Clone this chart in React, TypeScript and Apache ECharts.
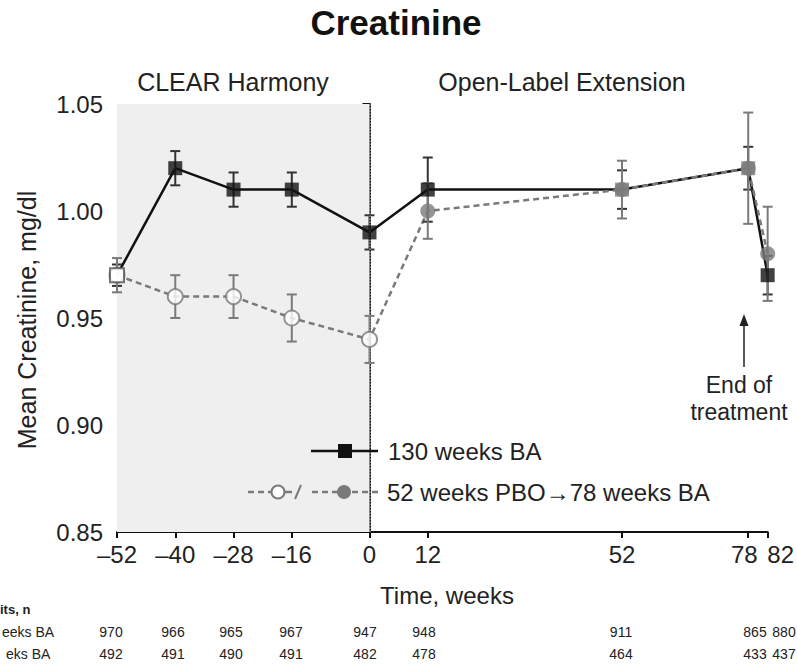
import React, { useEffect, useRef } from "react";
import * as echarts from "echarts";

// ---- data ----
const weeks = [-52, -40, -28, -16, 0, 12, 52, 78, 82];
const meanBA = [0.97, 1.02, 1.01, 1.01, 0.99, 1.01, 1.01, 1.02, 0.97];
const errBA = [0.005, 0.008, 0.008, 0.008, 0.008, 0.015, 0.009, 0.01, 0.009];
const meanPBO = [0.97, 0.96, 0.96, 0.95, 0.94, 1.0, 1.01, 1.02, 0.98];
const errPBO = [0.008, 0.01, 0.01, 0.011, 0.011, 0.013, 0.0135, 0.026, 0.022];
const nBA = [970, 966, 965, 967, 947, 948, 911, 865, 880];
const nPBO = [492, 491, 490, 491, 482, 478, 464, 433, 437];
const yTicks = [0.85, 0.9, 0.95, 1.0, 1.05];

// ---- layout (pixels) ----
const tableX = [111, 173, 231, 291, 365, 424, 621, 755, 784];
const FONT = "'Liberation Sans', Arial, sans-serif";
const GRAY = "#7a7a7a";

function errSeries(means: number[], errs: number[], color: string, z: number) {
  return {
    type: "custom",
    z,
    silent: true,
    encode: { x: 0, y: [1, 2] },
    data: weeks.map((w, i) => [w, means[i] - errs[i], means[i] + errs[i]]),
    renderItem: (params: any, api: any) => {
      const x = api.value(0);
      const lo = api.coord([x, api.value(1)]);
      const hi = api.coord([x, api.value(2)]);
      const hw = 5;
      const st = { stroke: color, lineWidth: 2 };
      return {
        type: "group",
        children: [
          { type: "line", shape: { x1: lo[0], y1: lo[1], x2: hi[0], y2: hi[1] }, style: st },
          { type: "line", shape: { x1: lo[0] - hw, y1: lo[1], x2: lo[0] + hw, y2: lo[1] }, style: st },
          { type: "line", shape: { x1: hi[0] - hw, y1: hi[1], x2: hi[0] + hw, y2: hi[1] }, style: st },
        ],
      };
    },
  };
}

export default function App() {
  const ref = useRef<HTMLDivElement>(null);
  useEffect(() => {
    document.body.style.margin = "0";
    const chart = echarts.init(ref.current!, null, { renderer: "svg" });
    const txt = (text: string, x: number, y: number, size: number, extra: any = {}) => ({
      type: "text",
      z: 100,
      x,
      y,
      style: {
        text,
        fontSize: size,
        fontFamily: FONT,
        fill: "#222",
        textAlign: "left",
        textVerticalAlign: "middle",
        ...extra,
      },
    });
    const Z = 100;
    const graphics: any[] = [
      txt("Creatinine", 396, 22, 35, { fontWeight: "bold", textAlign: "center", fill: "#111" }),
      txt("CLEAR Harmony", 233, 82, 25, { textAlign: "center" }),
      txt("Open-Label Extension", 562, 82, 25, { textAlign: "center" }),
      {
        type: "text",
        z: Z,
        x: 27,
        y: 320,
        rotation: Math.PI / 2,
        style: {
          text: "Mean Creatinine, mg/dl",
          fontSize: 25,
          fontFamily: FONT,
          fill: "#222",
          textAlign: "center",
          textVerticalAlign: "middle",
        },
      },
      txt("Time, weeks", 447, 595, 24, { textAlign: "center" }),
      txt("End of", 739, 385, 23, { textAlign: "center" }),
      txt("treatment", 739, 412, 23, { textAlign: "center" }),
      { type: "line", z: Z, shape: { x1: 744, y1: 367, x2: 744, y2: 324 }, style: { stroke: "#222", lineWidth: 1.5 } },
      { type: "polygon", z: Z, shape: { points: [[744, 314], [739.5, 326], [748.5, 326]] }, style: { fill: "#222" } },
      // legend row 1
      { type: "line", z: Z, shape: { x1: 311, y1: 451, x2: 378, y2: 451 }, style: { stroke: "#111", lineWidth: 2.5 } },
      { type: "rect", z: Z, shape: { x: 338, y: 444, width: 14, height: 14 }, style: { fill: "#111" } },
      txt("130 weeks BA", 388, 451, 24),
      // legend row 2
      { type: "line", z: Z, shape: { x1: 248, y1: 492, x2: 272, y2: 492 }, style: { stroke: GRAY, lineWidth: 2.5, lineDash: [6, 4] } },
      { type: "circle", z: Z, shape: { cx: 278, cy: 492, r: 6.5 }, style: { fill: "#fff", stroke: GRAY, lineWidth: 2 } },
      { type: "line", z: Z, shape: { x1: 285, y1: 492, x2: 292, y2: 492 }, style: { stroke: GRAY, lineWidth: 2.5 } },
      { type: "line", z: Z, shape: { x1: 295, y1: 499, x2: 301, y2: 485 }, style: { stroke: GRAY, lineWidth: 2 } },
      { type: "line", z: Z, shape: { x1: 312, y1: 492, x2: 380, y2: 492 }, style: { stroke: GRAY, lineWidth: 2.5, lineDash: [6, 4] } },
      { type: "circle", z: Z, shape: { cx: 344, cy: 492, r: 7 }, style: { fill: GRAY } },
      txt("52 weeks PBO\u219278 weeks BA", 387, 492, 24),
      // table
      txt("its, n", 0, 609, 13, { fontWeight: "bold" }),
      txt("eeks BA", 2, 632, 14),
      txt("eks BA", 6, 654, 14),
    ];
    nBA.forEach((v, i) => graphics.push(txt(String(v), tableX[i], 632, 14, { textAlign: "center" })));
    nPBO.forEach((v, i) => graphics.push(txt(String(v), tableX[i], 654, 14, { textAlign: "center" })));

    const baItemStyle = (i: number) => {
      if (i === 0) return { color: "#fff", borderColor: "#555", borderWidth: 2 };
      if (weeks[i] === 52 || weeks[i] === 78) return { color: GRAY };
      return { color: "#111" };
    };
    const pboItemStyle = (i: number) =>
      weeks[i] <= 0
        ? { color: "#fff", borderColor: GRAY, borderWidth: 2 }
        : { color: GRAY };

    chart.setOption({
      animation: false,
      grid: { left: 117, right: 28, top: 104, bottom: 140 },
      xAxis: {
        type: "value",
        min: -52,
        max: 82,
        axisLine: { lineStyle: { color: "#111", width: 2 } },
        axisTick: { customValues: weeks, length: 6, lineStyle: { color: "#111", width: 2 } },
        axisLabel: {
          customValues: weeks,
          showMinLabel: true,
          showMaxLabel: true,
          hideOverlap: false,
          fontSize: 24,
          fontFamily: FONT,
          color: "#222",
          margin: 10,
          formatter: (v: number) => {
            if (v === 78) return "{a|78}";
            if (v === 82) return "{b|82}";
            return v < 0 ? "\u2013" + Math.abs(v) : String(v);
          },
          rich: {
            a: { fontSize: 24, fontFamily: FONT, color: "#222", padding: [0, 8, 0, 0] },
            b: { fontSize: 24, fontFamily: FONT, color: "#222", padding: [0, 0, 0, 26] },
          },
        },
        splitLine: { show: false },
      },
      yAxis: {
        type: "value",
        min: yTicks[0],
        max: yTicks[yTicks.length - 1],
        interval: 0.05,
        axisLine: { show: true, lineStyle: { color: "#111", width: 2 } },
        axisTick: { show: true, length: 7, lineStyle: { color: "#111", width: 2 } },
        axisLabel: {
          fontSize: 24,
          fontFamily: FONT,
          color: "#222",
          margin: 14,
          formatter: (v: number) => v.toFixed(2),
        },
        splitLine: { show: false },
      },
      series: [
        {
          type: "line",
          z: 2,
          data: weeks.map((w, i) => [w, meanBA[i]]),
          showSymbol: false,
          lineStyle: { color: "#111", width: 2.5 },
          markArea: {
            silent: true,
            itemStyle: { color: "#efefef" },
            data: [[{ xAxis: -52 }, { xAxis: 0 }]],
          },
          markLine: {
            silent: true,
            symbol: "none",
            label: { show: false },
            lineStyle: { color: "#999", type: "dotted", width: 1.5 },
            data: [{ xAxis: 0 }],
          },
        },
        {
          type: "line",
          z: 3,
          data: weeks.map((w, i) => [w, meanPBO[i]]),
          showSymbol: false,
          lineStyle: { color: GRAY, width: 2.5, type: [6, 4] },
        },
        errSeries(meanBA, errBA, "#333", 4),
        errSeries(meanPBO, errPBO, GRAY, 4),
        {
          type: "scatter",
          z: 5,
          symbol: "circle",
          symbolSize: 15,
          data: weeks.map((w, i) => ({ value: [w, meanPBO[i]], itemStyle: pboItemStyle(i) })),
        },
        {
          type: "scatter",
          z: 6,
          symbol: "rect",
          symbolSize: 14,
          data: weeks.map((w, i) => ({ value: [w, meanBA[i]], itemStyle: baItemStyle(i) })),
        },
      ],
      graphic: graphics,
    });
    return () => chart.dispose();
  }, []);
  return <div ref={ref} style={{ width: 797, height: 672 }} />;
}
